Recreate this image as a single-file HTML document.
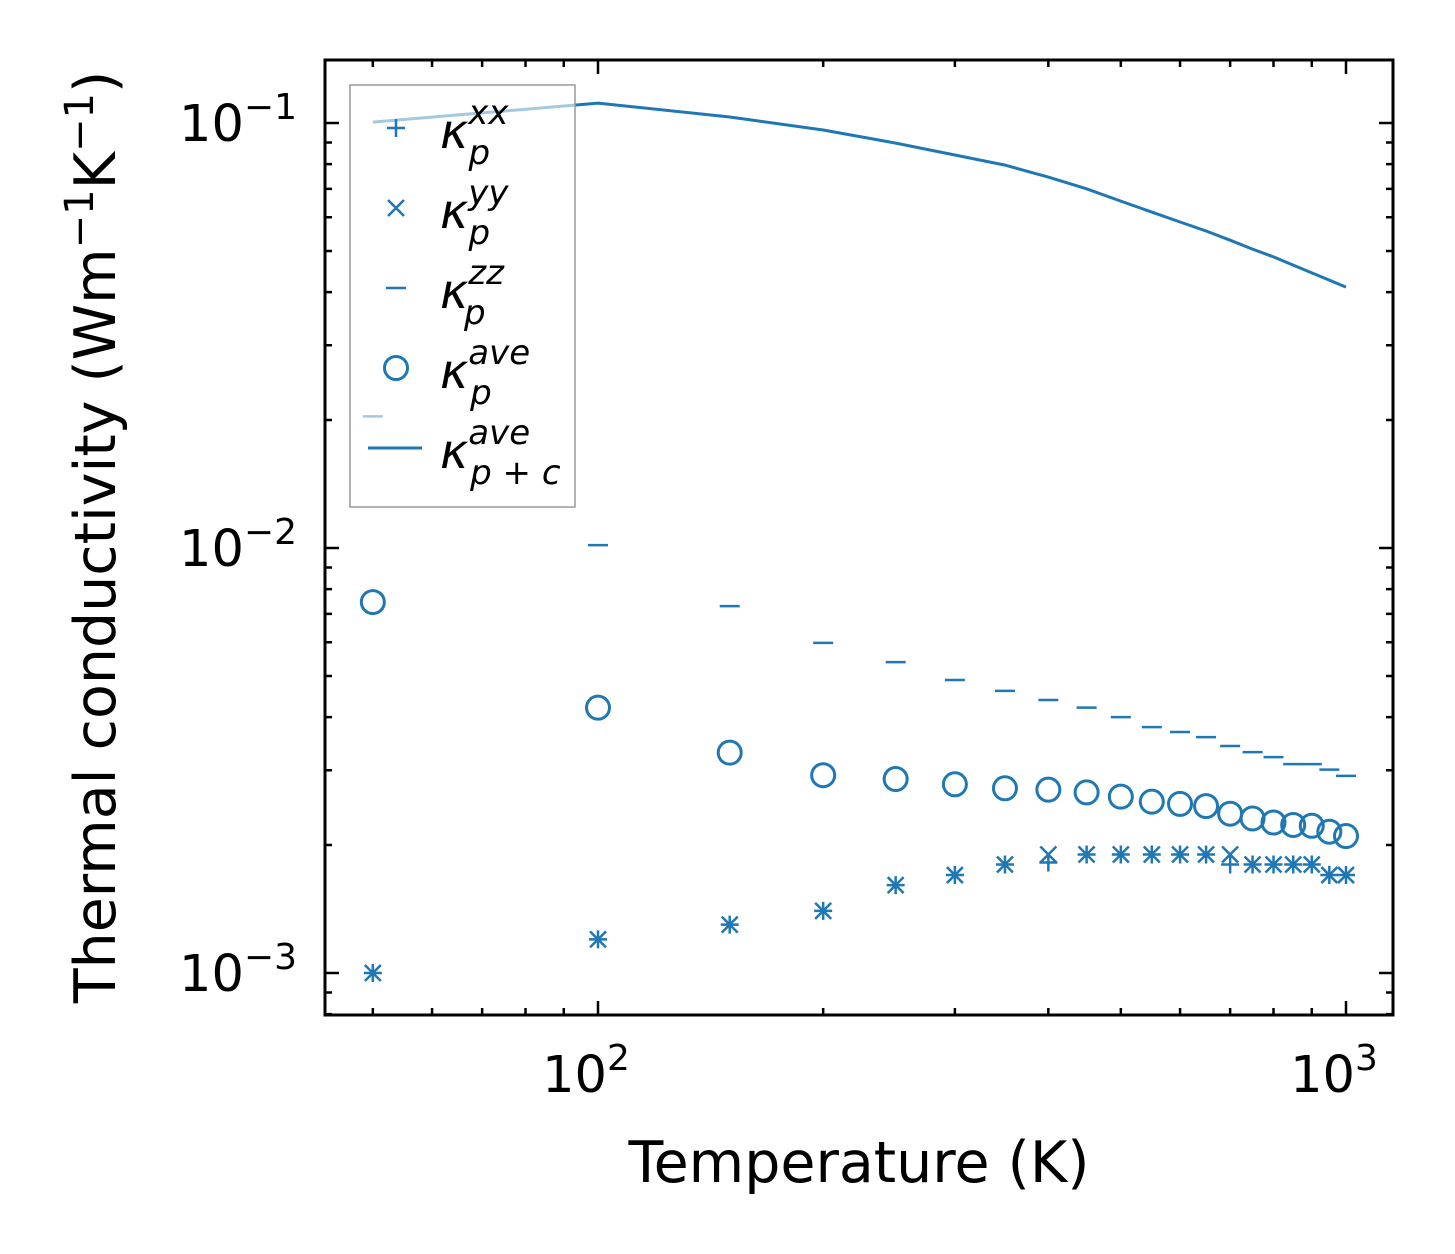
<!DOCTYPE html>
<html><head><meta charset="utf-8"><style>body{margin:0;background:#fff}svg{display:block}text{font-family:"DejaVu Sans","Liberation Sans",sans-serif}</style></head>
<body>
<svg id="chart" width="1455" height="1254" xmlns="http://www.w3.org/2000/svg">
<g id="marks"></g>
<g id="axes"></g>
<g id="legend"></g>
</svg>
<script>
const temps=[50,100,150,200,250,300,350,400,450,500,550,600,650,700,750,800,850,900,950,1000];
const kxx=[0.001,0.0012,0.0013,0.0014,0.00161,0.0017,0.0018,0.00182,0.0019,0.0019,0.0019,0.0019,0.0019,0.0018,0.0018,0.0018,0.0018,0.0018,0.0017,0.0017];
const kyy=[0.001,0.0012,0.0013,0.0014,0.00161,0.0017,0.0018,0.0019,0.0019,0.0019,0.0019,0.0019,0.0019,0.0019,0.0018,0.0018,0.0018,0.0018,0.0017,0.0017];
const kzz=[0.0204,0.01016,0.0073,0.00598,0.00539,0.00489,0.00461,0.00439,0.00421,0.004,0.00379,0.00369,0.00359,0.00342,0.00331,0.00322,0.0031,0.0031,0.00301,0.00291];
const kave=[0.00746,0.00421,0.0033,0.00292,0.00286,0.00278,0.00272,0.0027,0.00266,0.0026,0.00253,0.0025,0.00247,0.00237,0.00231,0.00226,0.00223,0.00222,0.00215,0.0021];
const kpc=[0.1005,0.1114,0.1033,0.0963,0.0897,0.0841,0.0796,0.0746,0.07,0.0655,0.0617,0.0585,0.0557,0.053,0.0505,0.0484,0.0463,0.0444,0.0427,0.0411];
const xMajor=[100,1000];
const yMajor=[0.1,0.01,0.001];
const xTickLabels=["2","3"];
const yTickLabels=["\u22121","\u22122","\u22123"];

const L=325,R=1393,T=60,B=1015,C="#1f77b4",NS="http://www.w3.org/2000/svg";
const X=v=>598+748*(Math.log10(v)-2);
const Y=v=>123-425*(Math.log10(v)+1);
function mk(tag,attrs,parent){const e=document.createElementNS(NS,tag);for(const k in attrs)e.setAttribute(k,attrs[k]);parent.appendChild(e);return e;}
const marks=document.getElementById('marks'),axes=document.getElementById('axes'),leg=document.getElementById('legend');

let d=temps.map((t,i)=>(i?'L':'M')+X(t).toFixed(1)+','+Y(kpc[i]).toFixed(1)).join('');
const ln=mk('path',{d:d,stroke:C,'stroke-width':3,fill:'none','stroke-linejoin':'round'},marks);


temps.forEach((t,i)=>{
  let x=X(t),y=Y(kxx[i]);
  const p=mk('path',{d:`M${x-9},${y}h18M${x},${y-9}v18`,stroke:C,'stroke-width':2.5},marks);
  
  
  y=Y(kyy[i]);
  const q=mk('path',{d:`M${x-8},${y-8}l16,16M${x-8},${y+8}l16,-16`,stroke:C,'stroke-width':2.5},marks);
  
  
  y=Y(kzz[i]);
  const z=mk('path',{d:`M${x-10},${y}h20`,stroke:C,'stroke-width':2.5},marks);
  
  
  y=Y(kave[i]);
  const c=mk('circle',{cx:x,cy:y,r:11.5,stroke:C,'stroke-width':3,fill:'none'},marks);
  
  
});

const fr=mk('rect',{x:L,y:T,width:R-L,height:B-T,fill:'none',stroke:'#000','stroke-width':3},axes);


let tk='';
for(let e=1;e<=3;e++)for(let m=1;m<10;m++){const v=m*Math.pow(10,e);const x=X(v);if(x<L||x>R)continue;const len=m==1?14:7;tk+=`M${x},${B}v-${len}M${x},${T}v${len}`;}
for(let e=-4;e<=0;e++)for(let m=1;m<10;m++){const v=m*Math.pow(10,e);const y=Y(v);if(y<T||y>B)continue;const len=m==1?14:7;tk+=`M${L},${y}h${len}M${R},${y}h-${len}`;}
const ticks=mk('path',{d:tk,stroke:'#000','stroke-width':2.5},axes);


xMajor.forEach((v,i)=>{const t=mk('text',{x:X(v)-12,y:1092,'font-size':51,'text-anchor':'middle'},axes);t.innerHTML=`10<tspan dy="-22" font-size="36">${xTickLabels[i]}</tspan>`;
  
  });
yMajor.forEach((v,i)=>{const t=mk('text',{x:297,y:Y(v)+18,'font-size':51,'text-anchor':'end'},axes);t.innerHTML=`10<tspan dy="-22" font-size="36">${yTickLabels[i]}</tspan>`;
  
  });
const xt=mk('text',{x:859,y:1182,'font-size':57,'text-anchor':'middle'},axes);xt.textContent='Temperature (K)';


const yt=mk('text',{x:0,y:0,'font-size':57,'text-anchor':'middle',transform:'translate(115,537) rotate(-90)'},axes);
yt.innerHTML='Thermal conductivity (Wm<tspan dy="-22" font-size="40">\u22121</tspan><tspan dy="22">K</tspan><tspan dy="-22" font-size="40">\u22121</tspan><tspan dy="22">)</tspan>';



const lb=mk('rect',{x:350,y:85,width:225,height:422,fill:'rgba(255,255,255,0.6)',stroke:'#999','stroke-width':1.5},leg);


const entries=[['xx','p',128],['yy','p',208],['zz','p',288],['ave','p',368],['ave','p + c',448]];
entries.forEach((en,i)=>{
  const cy=en[2],x=396;let s;
  if(i==0)s=mk('path',{d:`M${x-9},${cy}h18M${x},${cy-9}v18`,stroke:C,'stroke-width':2.5},leg);
  else if(i==1)s=mk('path',{d:`M${x-8},${cy-8}l16,16M${x-8},${cy+8}l16,-16`,stroke:C,'stroke-width':2.5},leg);
  else if(i==2)s=mk('path',{d:`M${x-10},${cy}h20`,stroke:C,'stroke-width':2.5},leg);
  else if(i==3)s=mk('circle',{cx:x,cy:cy,r:11.5,stroke:C,'stroke-width':3,fill:'none'},leg);
  else s=mk('path',{d:`M368,${cy}h54`,stroke:C,'stroke-width':3},leg);
  
  
  const t=mk('text',{x:440,y:cy+20,'font-size':48,'font-style':'italic'},leg);
  t.innerHTML=`κ<tspan dy="-24" font-size="34">${en[0]}</tspan><tspan dx="-${en[0].length*20}" dy="40" font-size="34">${en[1]}</tspan>`;
  
  
});
</script>
</body></html>
